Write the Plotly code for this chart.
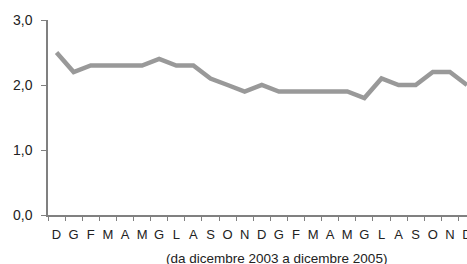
import plotly.graph_objects as go

month_labels = ["D", "G", "F", "M", "A", "M", "G", "L", "A", "S", "O", "N",
                "D", "G", "F", "M", "A", "M", "G", "L", "A", "S", "O", "N", "D"]
values = [2.5, 2.2, 2.3, 2.3, 2.3, 2.3, 2.4, 2.3, 2.3, 2.1, 2.0, 1.9, 2.0,
          1.9, 1.9, 1.9, 1.9, 1.9, 1.8, 2.1, 2.0, 2.0, 2.2, 2.2, 2.0]
y_ticks = [0, 1, 2, 3]
y_tick_labels = ["0,0", "1,0", "2,0", "3,0"]
x_title = "(da dicembre 2003 a dicembre 2005)"

x = list(range(len(values)))

fig = go.Figure()
fig.add_trace(go.Scatter(x=x, y=values, mode="lines",
                         line=dict(color="#999999", width=4.5),
                         cliponaxis=False, hoverinfo="skip"))

axis_col = "#808080"
font_main = "Liberation Sans, Arial, sans-serif"

fig.update_layout(
    width=467, height=264,
    margin=dict(l=48, r=0, t=20, b=49, autoexpand=False),
    paper_bgcolor="white", plot_bgcolor="white",
    showlegend=False,
    font=dict(family=font_main, color="#222222", size=12),
    xaxis=dict(
        range=[-0.5, 24.0],
        tickmode="array", tickvals=x, ticktext=month_labels,
        ticks="", showgrid=False, zeroline=False, automargin=False,
        showline=True, linecolor=axis_col, linewidth=1.5,
        ticklabelstandoff=7, ticklabeloverflow="allow",
        tickfont=dict(size=13, family=font_main, color="#222222"),
        minor=dict(tickmode="linear", tick0=-0.5, dtick=1, ticks="outside",
                   ticklen=4, tickcolor=axis_col, tickwidth=1.2, showgrid=False),
        fixedrange=True,
    ),
    yaxis=dict(
        range=[0, 3],
        tickmode="array", tickvals=y_ticks, ticktext=y_tick_labels,
        ticks="outside", ticklen=5, tickcolor=axis_col, tickwidth=1.2,
        showgrid=False, zeroline=False, automargin=False,
        showline=True, linecolor=axis_col, linewidth=1.5,
        ticklabelstandoff=6,
        tickfont=dict(size=14, family=font_main, color="#222222"),
        fixedrange=True,
    ),
    annotations=[dict(
        text=x_title, xref="paper", yref="paper", x=0.545, y=-0.222,
        xanchor="center", yanchor="middle", showarrow=False,
        font=dict(size=13.5, family=font_main, color="#222222"),
    )],
)

fig.write_html(
    "out.html",
    config={"displayModeBar": False},
    post_script="document.body.style.margin='0';document.body.style.overflow='hidden';",
)
